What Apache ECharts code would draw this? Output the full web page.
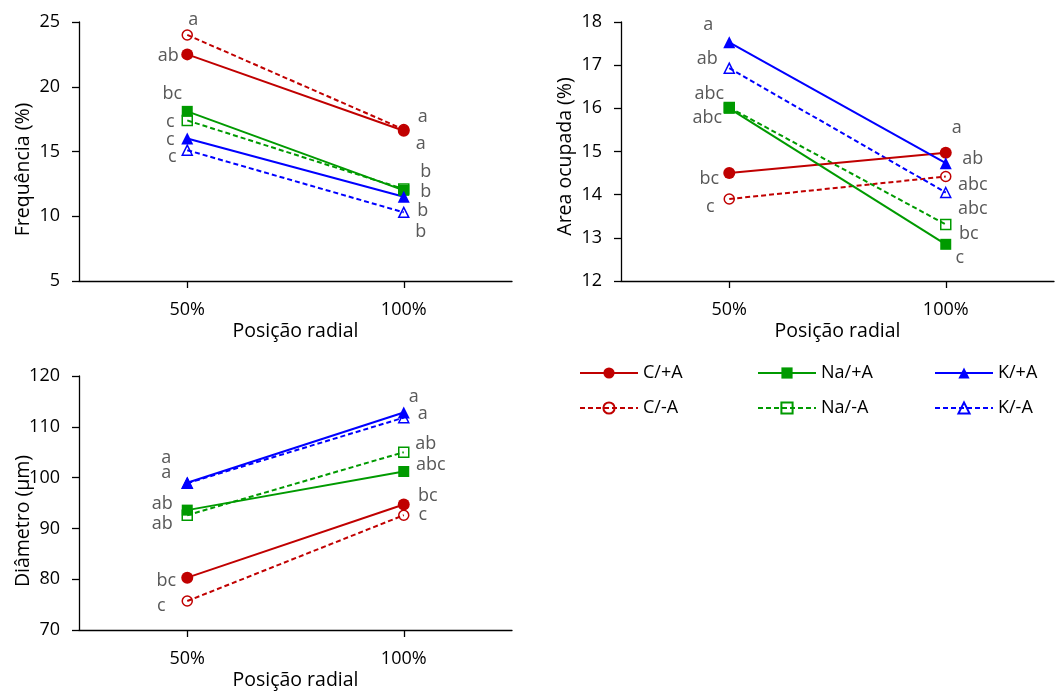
<!DOCTYPE html>
<html>
<head>
<meta charset="utf-8">
<script src="https://cdn.jsdelivr.net/npm/echarts@6/dist/echarts.min.js"></script>
<style>
  html, body { margin: 0; padding: 0; background: #fff; }
  #chart { width: 1060px; height: 691px; }
</style>
</head>
<body>
<div id="chart"></div>
<script>
// Radial positions (x categories)
const positions = ['50%', '100%'];
// Treatments, in the order used by every value list below
const treatments = ['C/+A', 'C/-A', 'Na/+A', 'Na/-A', 'K/+A', 'K/-A'];

// Frequência (%)
const freq50 = [22.5, 24.0, 18.1, 17.4, 16.0, 15.1];
const freq100 = [16.6, 16.7, 12.0, 12.1, 11.5, 10.3];
const freqLetters50 = ['ab', 'a', 'bc', 'c', 'c', 'c'];
const freqLetters100 = ['a', 'a', 'b', 'b', 'b', 'b'];

// Área ocupada (%)
const area50 = [14.5, 13.9, 16.0, 16.02, 17.53, 16.93];
const area100 = [14.97, 14.42, 12.85, 13.31, 14.73, 14.05];
const areaLetters50 = ['bc', 'c', 'abc', 'abc', 'a', 'ab'];
const areaLetters100 = ['a', 'abc', 'c', 'bc', 'ab', 'abc'];

// Diâmetro (µm)
const diam50 = [80.3, 75.7, 93.6, 92.6, 99.0, 98.9];
const diam100 = [94.7, 92.6, 101.2, 105.0, 112.8, 111.8];
const diamLetters50 = ['bc', 'c', 'ab', 'ab', 'a', 'a'];
const diamLetters100 = ['bc', 'c', 'abc', 'ab', 'a', 'a'];

// Letter placement relative to each marker, [dx, dy] in px
const freqOffsets50 = [[-19, 1], [6, -15], [-15, -17], [-17, 1], [-17, 1], [-15, 7]];
const freqOffsets100 = [[17, 13], [19, -13], [22, -18], [22, 3], [19, 14], [17, 20]];
const areaOffsets50 = [[-20, 6], [-19, 8], [-20, -14], [-22, 10], [-21, -17], [-22, -9]];
const areaOffsets100 = [[11, -25], [27, 8], [14, 14], [23, 9], [27, -4], [27, 16]];
const diamOffsets50 = [[-21, 3], [-26, 5], [-25, -6], [-25, 9], [-21, -25], [-21, -10]];
const diamOffsets100 = [[24, -9], [19, 0], [27, -7], [22, -8], [10, -16], [19, -4]];

const FONT = '"Open Sans", "Noto Sans", sans-serif';
const RED = '#C00000', GREEN = '#009A00', BLUE = '#0000FF';
const seriesColors = [RED, RED, GREEN, GREEN, BLUE, BLUE];
const seriesShapes = ['circle', 'circle', 'rect', 'rect', 'triangle', 'triangle'];

function styleFor(i) {
  const color = seriesColors[i];
  const open = i % 2 === 1;
  return {
    color,
    symbol: seriesShapes[i],
    symbolSize: open ? 10 : (seriesShapes[i] === 'rect' ? 11 : 12),
    lineStyle: { color, width: 2, type: open ? [5, 3] : 'solid' },
    itemStyle: open
      ? { color: 'rgba(255,255,255,0)', borderColor: color, borderWidth: 1.5 }
      : { color, borderWidth: 0 }
  };
}

function point(value, letter, offset) {
  return {
    value,
    label: {
      show: true,
      formatter: letter,
      position: 'inside',
      offset,
      color: '#595959',
      fontFamily: FONT,
      fontSize: 18
    }
  };
}

function panelSeries(axisIdx, v50, v100, l50, l100, o50, o100) {
  return treatments.map((name, i) => {
    const s = styleFor(i);
    return {
      name,
      type: 'line',
      xAxisIndex: axisIdx,
      yAxisIndex: axisIdx,
      symbol: s.symbol,
      symbolSize: s.symbolSize,
      lineStyle: s.lineStyle,
      itemStyle: s.itemStyle,
      z: i % 2 === 1 ? 2 : 3,
      emphasis: { disabled: true },
      animation: false,
      data: [
        point(v50[i], l50[i], o50[i]),
        point(v100[i], l100[i], o100[i])
      ]
    };
  });
}

const axisText = { color: '#000', fontFamily: FONT, fontSize: 18 };
const axisLine = { show: true, lineStyle: { color: '#000', width: 1.3 } };
const axisTick = { show: true, length: 7, lineStyle: { color: '#000', width: 1.3 } };

function xAxis(gridIndex) {
  return {
    type: 'category',
    gridIndex,
    data: positions,
    boundaryGap: true,
    axisLine,
    axisTick: Object.assign({ alignWithLabel: true, inside: false }, axisTick),
    axisLabel: Object.assign({ margin: 20 }, axisText),
    splitLine: { show: false },
    name: 'Posição radial',
    nameLocation: 'middle',
    nameGap: 40,
    nameMoveOverlap: false,
    nameTextStyle: { color: '#000', fontFamily: FONT, fontSize: 19.5 }
  };
}

function yAxis(gridIndex, title, min, max, interval, shift) {
  return {
    type: 'value',
    gridIndex,
    min, max, interval,
    axisLine,
    axisTick,
    axisLabel: Object.assign({ margin: 19 }, axisText),
    splitLine: { show: false },
    name: title,
    nameLocation: 'middle',
    nameGap: 46,
    nameMoveOverlap: false,
    nameTextStyle: {
      color: '#000', fontFamily: FONT, fontSize: 19.5,
      padding: [0, shift, 0, 0]
    }
  };
}

function legendColumn(left, names) {
  return {
    orient: 'vertical',
    left, top: 364, padding: 0,
    itemWidth: 58, itemHeight: 14, itemGap: 17,
    selectedMode: false,
    textStyle: { color: '#000', fontFamily: FONT, fontSize: 18 },
    data: names
  };
}

const chart = echarts.init(document.getElementById('chart'), null, { renderer: 'canvas' });
chart.setOption({
  animation: false,
  backgroundColor: '#fff',
  grid: [
    { left: 79, top: 22, width: 433, height: 259 },
    { left: 621, top: 22, width: 433, height: 259 },
    { left: 79, top: 376, width: 433, height: 257 }
  ],
  xAxis: [xAxis(0), xAxis(1), xAxis(2)],
  yAxis: [
    yAxis(0, 'Frequência (%)', 5, 25, 5, 36),
    yAxis(1, 'Area ocupada (%)', 12, 18, 1, 10),
    yAxis(2, 'Diâmetro (µm)', 70, 120, 10, 36)
  ],
  legend: [
    legendColumn(579, [treatments[0], treatments[1]]),
    legendColumn(757, [treatments[2], treatments[3]]),
    legendColumn(934, [treatments[4], treatments[5]])
  ],
  series: [].concat(
    panelSeries(0, freq50, freq100, freqLetters50, freqLetters100, freqOffsets50, freqOffsets100),
    panelSeries(1, area50, area100, areaLetters50, areaLetters100, areaOffsets50, areaOffsets100),
    panelSeries(2, diam50, diam100, diamLetters50, diamLetters100, diamOffsets50, diamOffsets100)
  )
});
</script>
</body>
</html>
